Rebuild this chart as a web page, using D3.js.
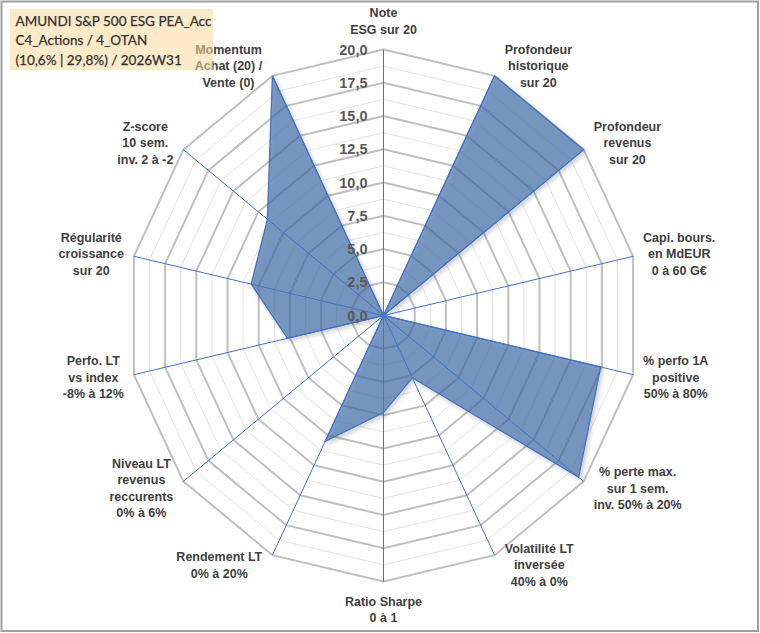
<!DOCTYPE html>
<html>
<head>
<meta charset="utf-8">
<script src="https://cdn.jsdelivr.net/npm/d3@7"></script>
<style>
  body { margin: 0; background: #fff; }
  svg { display: block; }
</style>
</head>
<body>
<div id="chart"></div>
<script>
// axes of the radar, clockwise from the top (one array of lines per label)
const categories = [
  ["Note", "ESG sur 20"],
  ["Profondeur", "historique", "sur 20"],
  ["Profondeur", "revenus", "sur 20"],
  ["Capi. bours.", "en MdEUR", "0 à 60 G€"],
  ["% perfo 1A", "positive", "50% à 80%"],
  ["% perte max.", "sur 1 sem.", "inv. 50% à 20%"],
  ["Volatilité LT", "inversée", "40% à 0%"],
  ["Ratio Sharpe", "0 à 1"],
  ["Rendement LT", "0% à 20%"],
  ["Niveau LT", "revenus", "reccurents", "0% à 6%"],
  ["Perfo. LT", "vs index", "-8% à 12%"],
  ["Régularité", "croissance", "sur 20"],
  ["Z-score", "10 sem.", "inv. 2 à -2"],
  ["Momentum", "Achat (20) /", "Vente (0)"]
];

// scores out of 20
const scores = [0, 20, 20, 0, 17.4, 19.5, 5.2, 7.3, 10.5, 0, 7.7, 10.6, 11.6, 20];

const tickValues = [0, 2.5, 5, 7.5, 10, 12.5, 15, 17.5, 20];
const minorValues = [1.25, 3.75, 6.25, 8.75, 11.25, 13.75, 16.25, 18.75];

const titleLines = [
  "AMUNDI S&P 500 ESG PEA_Acc",
  "C4_Actions / 4_OTAN",
  "(10,6% | 29,8%) / 2026W31"
];

// chart frame
const W = 760, H = 633;
const cx = 383.5, cy = 315.5;
const rx = 256, ry = 266; // the original picture is slightly squashed horizontally

const svg = d3.select("#chart")
  .append("svg")
  .attr("width", W)
  .attr("height", H);

svg.append("rect")
  .attr("width", W).attr("height", H)
  .attr("fill", "#fff");

const defs = svg.append("defs");
const shadow = defs.append("filter")
  .attr("id", "shadow")
  .attr("x", "-10%").attr("y", "-10%")
  .attr("width", "130%").attr("height", "130%");
shadow.append("feDropShadow")
  .attr("dx", 2).attr("dy", 2.5)
  .attr("stdDeviation", 2)
  .attr("flood-color", "#000")
  .attr("flood-opacity", 0.25);

const n = categories.length;
const angle = d3.scaleLinear().domain([0, n]).range([0, 2 * Math.PI]);
const r = d3.scaleLinear().domain([0, 20]).range([0, 1]);

function pt(i, v) {
  const a = angle(i);
  return [cx + Math.sin(a) * rx * r(v), cy - Math.cos(a) * ry * r(v)];
}

const ring = d3.line().curve(d3.curveLinearClosed);
const idx = d3.range(n);

// minor grid
svg.append("g")
  .selectAll("path")
  .data(minorValues)
  .join("path")
  .attr("d", v => ring(idx.map(i => pt(i, v))))
  .attr("fill", "none")
  .attr("stroke", "#e3e3e3")
  .attr("stroke-width", 1);

// major grid
svg.append("g")
  .selectAll("path")
  .data(tickValues.filter(v => v > 0))
  .join("path")
  .attr("d", v => ring(idx.map(i => pt(i, v))))
  .attr("fill", "none")
  .attr("stroke", "#bfbfbf")
  .attr("stroke-width", 2);

// data polygon
svg.append("path")
  .datum(scores)
  .attr("d", d => ring(d.map((v, i) => pt(i, v))))
  .attr("fill", "#3a6aa8")
  .attr("fill-opacity", 0.63)
  .attr("stroke", "#4472c4")
  .attr("stroke-width", 1.3)
  .attr("stroke-linejoin", "miter")
  .attr("filter", "url(#shadow)");

// radial axis lines
svg.append("g")
  .selectAll("line")
  .data(idx)
  .join("line")
  .attr("x1", cx).attr("y1", cy)
  .attr("x2", i => pt(i, 20)[0])
  .attr("y2", i => pt(i, 20)[1])
  .attr("stroke", "#4472c4")
  .attr("stroke-width", 1);

// value ticks along the top axis
const fmt = v => d3.format(".1f")(v).replace(".", ",");
svg.append("g")
  .selectAll("text")
  .data(tickValues)
  .join("text")
  .attr("x", cx - 16)
  .attr("y", v => pt(0, v)[1])
  .attr("dy", "0.36em")
  .attr("text-anchor", "end")
  .style("font-family", "'Liberation Sans', Arial, sans-serif")
  .style("font-weight", "bold")
  .style("font-size", "14.5px")
  .style("fill", "#595959")
  .text(fmt);

// category labels
const lineH = 16.4;
const labels = svg.append("g")
  .style("font-family", "'Liberation Sans', Arial, sans-serif")
  .style("font-weight", "bold")
  .style("font-size", "12.5px")
  .style("fill", "#404040");

labels.selectAll("text")
  .data(categories)
  .join("text")
  .attr("text-anchor", "middle")
  .each(function (lines, i) {
    const t = d3.select(this);
    lines.forEach((s, k) => {
      t.append("tspan")
        .attr("x", 0)
        .attr("y", (k - (lines.length - 1) / 2) * lineH)
        .attr("dy", "0.35em")
        .text(s);
    });
    const box = this.getBBox();
    const hw = box.width / 2;
    const hh = (lines.length * lineH) / 2;
    const a = angle(i);
    const [vx, vy] = pt(i, 20);
    let x, y;
    if (Math.abs(Math.sin(a)) < 0.01) {
      x = vx;
      y = vy - Math.cos(a) * (hh + 12);
    } else {
      x = vx + Math.sign(Math.sin(a)) * (hw + 10);
      y = vy - Math.cos(a) * 11;
    }
    t.attr("transform", `translate(${x},${y})`);
  });

// title box, drawn over the chart with some transparency
const title = svg.append("g");
title.append("rect")
  .attr("x", 10).attr("y", 9)
  .attr("width", 203).attr("height", 61)
  .attr("fill", "#f9d99a")
  .attr("fill-opacity", 0.55);

const titleText = title.append("g")
  .style("font-family", "Lato, 'Open Sans', sans-serif")
  .style("fill", "#333");
const probe = titleText.append("text").style("font-size", "15px").text(titleLines[0]);
const fs = 15 * 196 / probe.node().getComputedTextLength();
probe.remove();

titleText.selectAll("text")
  .data(titleLines)
  .join("text")
  .attr("x", 15.5)
  .attr("y", (d, i) => 21 + i * 19.5)
  .attr("dy", "0.36em")
  .style("font-size", fs + "px")
  .style("stroke", "#333")
  .style("stroke-width", 0.25)
  .text(d => d);

// outer frame
svg.append("rect")
  .attr("x", 1.5).attr("y", 1.5)
  .attr("width", W - 3.5).attr("height", H - 3.5)
  .attr("fill", "none")
  .attr("stroke", "#a0a0a0")
  .attr("stroke-width", 2);
</script>
</body>
</html>
